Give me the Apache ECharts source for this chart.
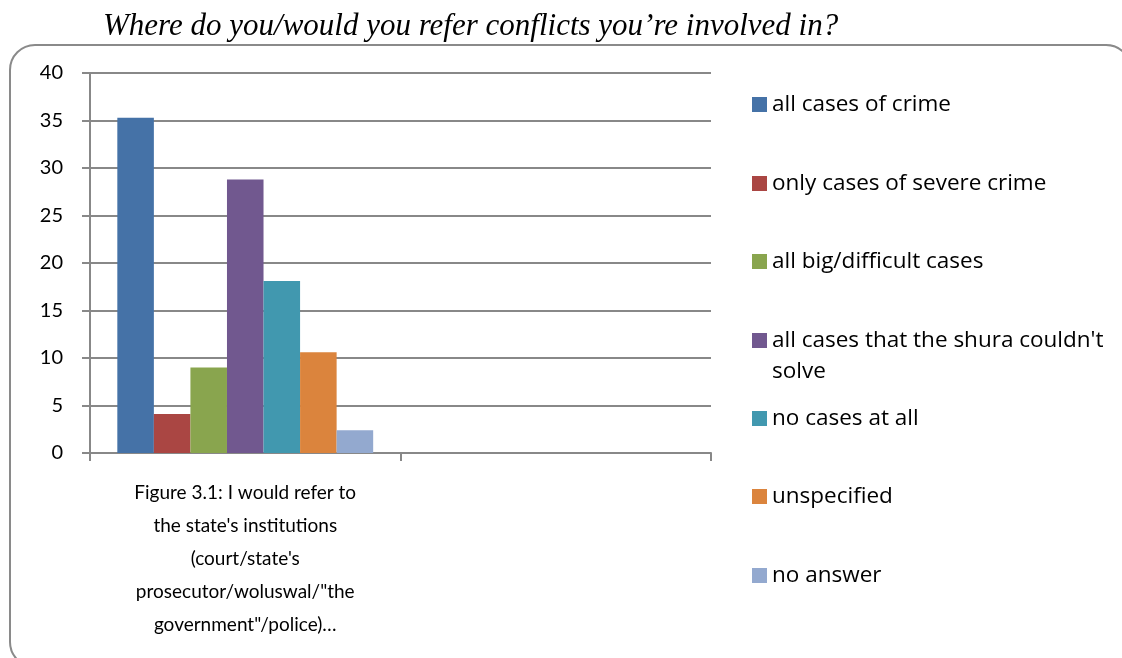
<!DOCTYPE html>
<html>
<head>
<meta charset="utf-8">
<title>Where do you/would you refer conflicts you’re involved in?</title>
<script src="https://cdn.jsdelivr.net/npm/echarts@6/dist/echarts.min.js"></script>
<style>
  html, body { margin: 0; padding: 0; background: #ffffff; }
  #chart { width: 1122px; height: 658px; }
</style>
</head>
<body>
<div id="chart"></div>
<script>
// Survey answers: where respondents would refer conflicts
const titleText = 'Where do you/would you refer conflicts you’re involved in?';
const categories = [
  'Figure 3.1: I would refer to\nthe state\'s institutions\n(court/state\'s\nprosecutor/woluswal/"the\ngovernment"/police)…',
  ''
];
const seriesNames = [
  'all cases of crime',
  'only cases of severe crime',
  'all big/difficult cases',
  'all cases that the shura couldn\'t solve',
  'no cases at all',
  'unspecified',
  'no answer'
];
const seriesValues = [
  [35.3],
  [4.1],
  [9.0],
  [28.8],
  [18.1],
  [10.6],
  [2.4]
];
const seriesColors = ['#4572A7', '#AA4643', '#89A54E', '#71588F', '#4198AF', '#DB843D', '#93A9CF'];
const yMin = 0, yMax = 40, yStep = 5;

const AXIS_FONT = 'Lato, "Open Sans", sans-serif';
const LEGEND_FONT = '"Open Sans", Lato, sans-serif';
const AXIS_GREY = '#888888';

const chart = echarts.init(document.getElementById('chart'), null, { renderer: 'canvas' });

const series = seriesNames.map((name, i) => ({
  name: name,
  type: 'bar',
  data: seriesValues[i],
  itemStyle: { color: seriesColors[i] },
  barGap: '0%',
  barCategoryGap: '17.6%'
}));

// long entries wrap after "couldn't"; a leading blank line keeps the
// swatch level with the first line of the wrapped label
function legendLabel(name) {
  return name.indexOf("couldn't ") >= 0 ? '\n' + name.replace("couldn't ", "couldn't\n") : name;
}

// one legend block per entry so each sits on its own row
const legendTops = [84, 163, 241, 289, 398, 476, 555];
const legends = seriesNames.map((name, i) => ({
  data: [name],
  left: 747,
  top: legendTops[i],
  orient: 'vertical',
  itemWidth: 15,
  itemHeight: 15,
  itemGap: 0,
  icon: 'rect',
  selectedMode: false,
  formatter: legendLabel,
  textStyle: {
    fontFamily: LEGEND_FONT,
    fontSize: 22.5,
    color: '#000000',
    lineHeight: 31
  }
}));

chart.setOption({
  backgroundColor: '#ffffff',
  animation: false,
  title: {
    text: titleText,
    left: 98,
    top: 6,
    textStyle: {
      fontFamily: '"Liberation Serif", "Times New Roman", serif',
      fontStyle: 'italic',
      fontWeight: 'normal',
      fontSize: 31,
      color: '#000000'
    }
  },
  graphic: [{
    type: 'rect',
    shape: { x: 10, y: 45, width: 1121, height: 622, r: 25 },
    style: { fill: 'none', stroke: '#8a8a8a', lineWidth: 2 },
    silent: true,
    z: -1
  }],
  legend: legends,
  grid: { left: 90, top: 73, width: 621, height: 380, containLabel: false },
  xAxis: {
    type: 'category',
    data: categories,
    axisLine: { show: true, lineStyle: { color: AXIS_GREY, width: 2 } },
    axisTick: { show: true, length: 8, alignWithLabel: false, lineStyle: { color: AXIS_GREY, width: 2 } },
    axisLabel: {
      interval: 0,
      margin: 23,
      fontFamily: AXIS_FONT,
      fontSize: 19,
      lineHeight: 33,
      color: '#000000',
      align: 'center'
    },
    splitLine: { show: false }
  },
  yAxis: {
    type: 'value',
    min: yMin,
    max: yMax,
    interval: yStep,
    axisLine: { show: true, lineStyle: { color: AXIS_GREY, width: 2 } },
    axisTick: { show: true, length: 8, lineStyle: { color: AXIS_GREY, width: 2 } },
    axisLabel: {
      margin: 27,
      fontFamily: AXIS_FONT,
      fontSize: 20,
      color: '#000000'
    },
    splitLine: { show: true, lineStyle: { color: AXIS_GREY, width: 2 } }
  },
  series: series
});
</script>
</body>
</html>
